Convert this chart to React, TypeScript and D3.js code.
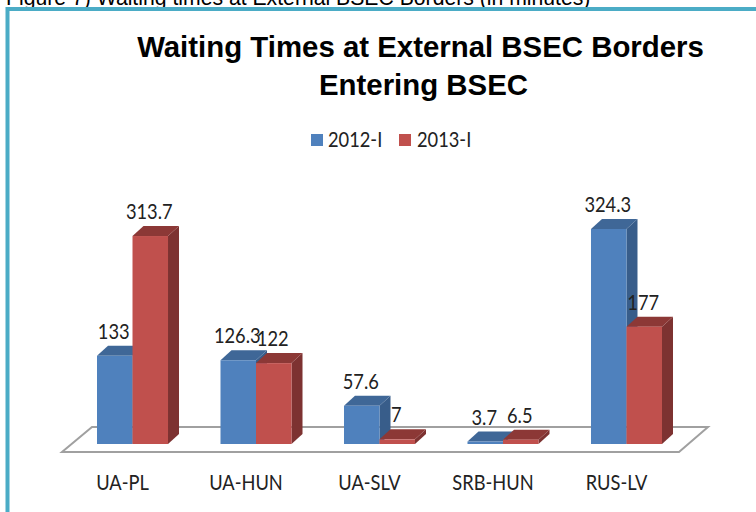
import * as d3 from "d3";

const categories = ["UA-PL", "UA-HUN", "UA-SLV", "SRB-HUN", "RUS-LV"];
const seriesNames = ["2012-I", "2013-I"];
const values2012 = [133, 126.3, 57.6, 3.7, 324.3];
const values2013 = [313.7, 122, 7, 6.5, 177];
const labels2012 = ["133", "126.3", "57.6", "3.7", "324.3"];
const labels2013 = ["313.7", "122", "7", "6.5", "177"];

const titleLines = ["Waiting Times at External BSEC Borders", "Entering BSEC"];
const caption = "Figure 7) Waiting times at External BSEC Borders (in minutes)";

const width = 756,
  height = 512,
  depthX = 11,
  depthY = 10,
  baseY = 444,
  floorFront = 452,
  floorBack = 427;

const colors = [
  { front: "#4f81bd", side: "#385d8a", top: "#3f6797" },
  { front: "#c0504d", side: "#7d3231", top: "#8c3836" },
];

// the source font is a narrow one, so Lato gets squeezed a bit
const Label = ({ x, y, anchor = "middle", children }: any) => (
  <text
    transform={`translate(${x}, ${y}) scale(0.87, 1)`}
    textAnchor={anchor}
    fontFamily="Lato, 'Open Sans', sans-serif"
    fontSize={21}
    fill="#222"
  >
    {children}
  </text>
);

const App = () => {
  const xScale = d3
    .scaleBand<string>()
    .domain(categories)
    .range([97, 662])
    .paddingInner(0.425);
  const seriesScale = d3
    .scaleBand<string>()
    .domain(seriesNames)
    .range([0, xScale.bandwidth()]);
  const yScale = d3.scaleLinear().domain([0, 324.3]).range([baseY, 229]);

  const series = [
    { name: seriesNames[0], values: values2012, labels: labels2012 },
    { name: seriesNames[1], values: values2013, labels: labels2013 },
  ];
  const line = d3.line();

  return (
    <svg
      width={width}
      height={height}
      viewBox={`0 0 ${width} ${height}`}
      style={{ position: "absolute", left: 0, top: 0, background: "#fff" }}
    >
      <text x={6} y={5} fontFamily="'Liberation Sans', Arial, sans-serif" fontSize={21.2} fill="#000">
        {caption}
      </text>
      <path d="M7.5,514V9H758" fill="none" stroke="#4bacc6" strokeWidth={4} />

      {titleLines.map((t, i) => (
        <text
          key={i}
          x={420.5 + i * 3}
          y={57 + i * 38}
          textAnchor="middle"
          fontFamily="'Liberation Sans', Arial, sans-serif"
          fontWeight="bold"
          fontSize={29.4}
          fill="#000"
        >
          {t}
        </text>
      ))}

      {/* legend */}
      {seriesNames.map((s, i) => (
        <g key={s}>
          <rect x={311 + i * 88} y={134} width={12} height={12} fill={colors[i].front} />
          <Label x={328 + i * 89} y={147} anchor="start">
            {s}
          </Label>
        </g>
      ))}

      {/* floor */}
      <path
        d={
          line([
            [62, floorFront],
            [679, floorFront],
            [708, floorBack],
            [92, floorBack],
          ]) + "Z"
        }
        fill="#fff"
        stroke="#a0a0a0"
        strokeWidth={2}
      />

      {/* bars, back to front inside each group */}
      {categories.map((c, i) => (
        <g key={c} transform={`translate(${xScale(c)}, 0)`}>
          {series.map((s, j) => {
            const x0 = seriesScale(s.name) as number;
            const x1 = x0 + seriesScale.bandwidth();
            const y = yScale(s.values[i]);
            return (
              <g key={s.name}>
                <path
                  d={
                    line([
                      [x1, y],
                      [x1 + depthX, y - depthY],
                      [x1 + depthX, baseY - depthY],
                      [x1, baseY],
                    ]) + "Z"
                  }
                  fill={colors[j].side}
                />
                <path
                  d={
                    line([
                      [x0, y],
                      [x0 + depthX, y - depthY],
                      [x1 + depthX, y - depthY],
                      [x1, y],
                    ]) + "Z"
                  }
                  fill={colors[j].top}
                />
                <rect x={x0} y={y} width={x1 - x0} height={baseY - y} fill={colors[j].front} />
              </g>
            );
          })}
        </g>
      ))}

      {/* value labels */}
      {categories.map((c, i) => (
        <g key={c} transform={`translate(${xScale(c)}, 0)`}>
          {series.map((s) => (
            <Label
              key={s.name}
              x={(seriesScale(s.name) as number) + seriesScale.bandwidth() / 2 - 1}
              y={yScale(s.values[i]) - 17}
            >
              {s.labels[i]}
            </Label>
          ))}
        </g>
      ))}

      {/* category labels */}
      {categories.map((c) => (
        <Label key={c} x={(xScale(c) as number) + xScale.bandwidth() / 2 - 10} y={490}>
          {c}
        </Label>
      ))}
    </svg>
  );
};

export default App;
